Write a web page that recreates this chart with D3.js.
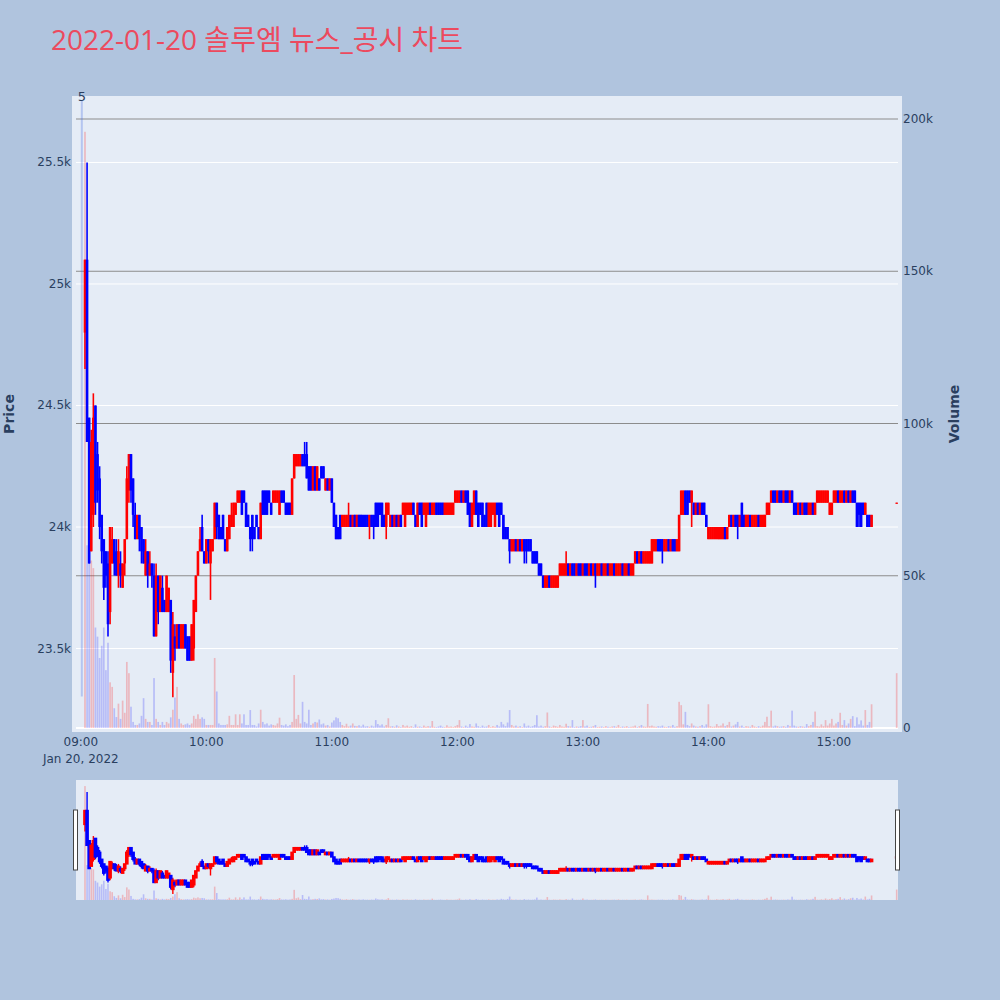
<!DOCTYPE html>
<html><head><meta charset="utf-8">
<script src="https://cdn.jsdelivr.net/npm/d3@7"></script>
<style>
body{margin:0;background:#B0C4DE;}
svg{display:block;}
text{font-family:"DejaVu Sans","Noto Sans CJK KR",sans-serif;}
text.title{font-family:"Open Sans","Noto Sans CJK KR",sans-serif;}
</style></head>
<body><svg id="c" width="1000" height="1000"></svg>
<script>
// ---------------- DATA ----------------
const chartTitle = "2022-01-20 솔루엠 뉴스_공시 차트";
const tradeDate = "2022-01-20";
const firstBarTime = "09:02";          // 1-minute bars from here, consecutive
const auctionTime = "15:30";           // closing auction bar
const auctionOpen = 24100, auctionHigh = 24100, auctionLow = 24100, auctionClose = 24100, auctionVolume = 18000;
const newsTimes = ["09:00"];
const newsLabels = ["5"];
const hourTicks = ["09:00","10:00","11:00","12:00","13:00","14:00","15:00"];
const priceTicks = [23500, 24000, 24500, 25000, 25500];
const priceTickLabels = ["23.5k","24k","24.5k","25k","25.5k"];
const volumeTicks = [0, 50000, 100000, 150000, 200000];
const volumeTickLabels = ["0","50k","100k","150k","200k"];

const openP = [
24800,25100,24450,23900,24050,24500,24300,24200,24050,23950,
23900,23850,23650,23850,23950,23900,23800,23850,23750,23850,
23950,24150,24300,24200,24050,23950,24050,24000,23950,23800,
23900,23800,23850,23800,23550,23800,23650,23750,23700,23650,
23650,23700,23400,23550,23500,23600,23500,23500,23600,23550,
23550,23450,23500,23650,23800,23900,24000,23900,23850,23950,
23850,23900,23950,24100,24050,24000,24050,23950,23900,23950,
24000,24000,24050,24100,24100,24150,24150,24100,24050,24000,
24050,24000,24050,24000,23950,24150,24150,24150,24150,24100,
24100,24100,24100,24050,24150,24150,24100,24100,24100,24050,
24200,24250,24250,24250,24300,24300,24300,24250,24250,24150,
24250,24150,24200,24250,24250,24150,24200,24150,24200,24100,
24050,24000,24050,24000,24000,24000,24000,24050,24000,24050,
24000,24050,24050,24050,24050,24050,24000,24050,24050,24100,
24100,24100,24100,24050,24000,24050,24000,24050,24000,24050,
24000,24050,24050,24000,24050,24050,24050,24100,24050,24000,
24100,24100,24050,24000,24050,24100,24050,24050,24100,24100,
24100,24100,24050,24050,24050,24050,24050,24100,24100,24100,
24150,24100,24150,24150,24100,24000,24050,24150,24100,24100,
24100,24050,24100,24000,24000,24050,24000,24100,24100,24100,
24050,24000,24000,23950,23900,23900,23950,23900,23950,23900,
23950,23950,23950,23950,23900,23900,23900,23850,23850,23800,
23750,23750,23800,23750,23750,23750,23750,23800,23800,23800,
23800,23850,23800,23850,23850,23800,23850,23850,23800,23850,
23850,23800,23850,23800,23850,23800,23800,23850,23800,23800,
23850,23800,23800,23850,23800,23800,23800,23850,23800,23800,
23850,23800,23800,23850,23900,23850,23900,23850,23850,23850,
23850,23850,23900,23900,23950,23950,23950,23900,23900,23950,
23900,23950,23950,23900,23900,24050,24050,24150,24150,24150,
24100,24100,24050,24100,24050,24100,24100,24050,23950,23950,
23950,23950,23950,23950,23950,23950,24000,23950,24000,24050,
24000,24050,24050,24000,24100,24050,24000,24000,24050,24000,
24000,24000,24050,24000,24000,24000,24050,24050,24100,24150,
24150,24100,24150,24150,24100,24150,24150,24100,24150,24100,
24100,24050,24100,24050,24100,24100,24050,24050,24100,24050,
24100,24100,24100,24100,24100,24100,24050,24050,24100,24100,
24150,24100,24100,24150,24100,24150,24100,24150,24150,24100,
24100,24100,24100,24050,24050,24050,24000];

const highP = [
25100,25500,24450,24400,24550,24500,24350,24250,24050,23950,
23900,23900,24000,24000,23950,23950,23950,23900,23850,23950,
24250,24300,24300,24200,24100,24050,24050,24000,23950,23950,
23900,23900,23850,23850,23850,23800,23800,23800,23700,23800,
23750,23700,23650,23600,23600,23600,23600,23600,23600,23550,
23550,23600,23700,23800,23900,24000,24050,23900,23950,23950,
23950,23950,24100,24100,24050,24000,24050,23950,24000,24050,
24100,24100,24100,24150,24150,24150,24150,24100,24050,24000,
24050,24000,24050,24000,24100,24150,24150,24150,24150,24100,
24150,24150,24150,24150,24150,24150,24100,24100,24100,24200,
24300,24300,24300,24300,24300,24350,24350,24250,24250,24250,
24250,24250,24200,24250,24250,24200,24200,24200,24200,24100,
24050,24000,24050,24050,24050,24050,24100,24050,24050,24050,
24050,24050,24050,24050,24050,24050,24050,24050,24050,24100,
24100,24100,24100,24050,24100,24100,24050,24050,24050,24050,
24050,24050,24100,24100,24100,24100,24100,24100,24050,24100,
24100,24100,24100,24100,24100,24100,24100,24100,24100,24100,
24100,24100,24100,24100,24100,24100,24100,24150,24150,24150,
24150,24150,24150,24150,24100,24100,24150,24150,24100,24100,
24100,24050,24100,24100,24100,24100,24100,24100,24100,24100,
24050,24000,24000,23950,23950,23950,23950,23950,23950,23950,
23950,23950,23950,23950,23900,23900,23900,23850,23850,23800,
23800,23800,23800,23800,23800,23800,23800,23850,23850,23850,
23900,23850,23850,23850,23850,23850,23850,23850,23850,23850,
23850,23850,23850,23850,23850,23850,23850,23850,23850,23850,
23850,23850,23850,23850,23850,23850,23850,23850,23850,23850,
23850,23850,23850,23900,23900,23900,23900,23900,23900,23900,
23900,23950,23950,23950,23950,23950,23950,23950,23950,23950,
23950,23950,23950,23950,24050,24150,24150,24150,24150,24150,
24150,24100,24100,24100,24100,24100,24100,24050,24000,24000,
24000,24000,24000,24000,24000,24000,24000,24000,24050,24050,
24050,24050,24050,24050,24100,24050,24050,24050,24050,24050,
24050,24050,24050,24050,24050,24050,24100,24100,24150,24150,
24150,24150,24150,24150,24150,24150,24150,24150,24150,24100,
24100,24100,24100,24100,24100,24100,24100,24100,24100,24100,
24150,24150,24150,24150,24150,24150,24100,24100,24150,24150,
24150,24150,24150,24150,24150,24150,24150,24150,24150,24100,
24100,24100,24100,24100,24050,24050,24050];

const lowP = [
24650,24350,23850,23900,24000,24050,24100,23950,23850,23700,
23750,23550,23600,23850,23800,23800,23750,23750,23750,23800,
23950,24100,24100,24000,23950,23950,23900,23850,23850,23800,
23750,23800,23750,23550,23550,23600,23650,23650,23650,23650,
23650,23400,23300,23450,23500,23500,23500,23500,23500,23450,
23450,23450,23450,23650,23800,23900,23900,23850,23850,23850,
23700,23900,23950,23950,23950,23950,23950,23900,23900,23950,
24000,24000,24050,24100,24100,24050,24100,24000,24000,23900,
23900,23950,24000,23950,23950,24050,24050,24050,24100,24050,
24100,24100,24100,24050,24100,24100,24050,24050,24050,24050,
24200,24250,24250,24250,24250,24250,24200,24150,24150,24150,
24150,24150,24150,24200,24200,24150,24150,24150,24100,24000,
23950,23950,23950,24000,24000,24000,24000,24000,24000,24000,
24000,24000,24000,24000,24000,24000,23950,24000,23950,24000,
24000,24050,24000,24000,23950,24050,24000,24000,24000,24000,
24000,24000,24050,24000,24050,24050,24050,24050,24000,24000,
24050,24000,24050,24000,24050,24050,24050,24050,24050,24050,
24050,24050,24050,24050,24050,24050,24050,24100,24100,24100,
24100,24100,24100,24050,24000,24000,24050,24050,24000,24050,
24000,24000,24000,24000,24000,24050,24000,24050,24000,24050,
23950,23950,23950,23850,23900,23900,23900,23900,23900,23900,
23850,23850,23900,23900,23850,23850,23850,23800,23800,23750,
23750,23750,23750,23750,23750,23750,23750,23800,23800,23800,
23800,23800,23800,23800,23800,23800,23800,23800,23800,23800,
23800,23800,23800,23800,23750,23800,23800,23800,23800,23800,
23800,23800,23800,23800,23800,23800,23800,23800,23800,23800,
23800,23800,23800,23850,23850,23850,23850,23850,23850,23850,
23850,23850,23900,23900,23900,23900,23850,23900,23900,23900,
23900,23900,23900,23900,23900,24050,24050,24050,24050,24100,
24000,24050,24050,24050,24050,24050,24050,24000,23950,23950,
23950,23950,23950,23950,23950,23950,23950,23950,24000,24000,
24000,24000,23950,24000,24000,24000,24000,24000,24000,24000,
24000,24000,24000,24000,24000,24000,24050,24050,24100,24100,
24100,24100,24100,24100,24100,24100,24100,24100,24100,24050,
24050,24050,24050,24050,24050,24050,24050,24050,24050,24050,
24100,24100,24100,24100,24100,24100,24050,24050,24100,24100,
24100,24100,24100,24100,24100,24100,24100,24100,24100,24000,
24000,24000,24050,24050,24000,24000,24000];

const closeP = [
25100,24350,23850,24350,24450,24100,24150,24000,23900,23750,
23800,23600,24000,23950,23850,23800,23900,23800,23850,23950,
24200,24300,24150,24050,23950,24050,23950,23900,23850,23900,
23800,23850,23800,23550,23800,23650,23800,23650,23650,23800,
23750,23450,23600,23500,23600,23500,23600,23600,23500,23450,
23450,23600,23700,23800,23900,23950,23900,23850,23950,23900,
23950,23950,24100,24000,23950,23950,23950,23900,24000,24050,
24050,24100,24100,24150,24150,24050,24100,24000,24000,23950,
23950,23950,24000,23950,24100,24050,24050,24050,24100,24050,
24150,24150,24150,24150,24100,24100,24050,24050,24050,24200,
24300,24300,24300,24300,24250,24250,24200,24150,24150,24250,
24150,24250,24150,24200,24200,24200,24150,24200,24100,24000,
23950,23950,23950,24050,24050,24050,24050,24000,24050,24000,
24050,24000,24000,24000,24000,24000,24050,24000,24000,24000,
24000,24050,24000,24000,24100,24100,24050,24000,24050,24000,
24050,24000,24100,24100,24100,24100,24100,24050,24000,24100,
24050,24000,24100,24100,24100,24050,24100,24100,24050,24050,
24050,24050,24100,24100,24100,24100,24100,24150,24150,24150,
24100,24150,24100,24050,24000,24100,24150,24050,24000,24050,
24000,24000,24000,24100,24100,24100,24100,24050,24000,24050,
23950,23950,23950,23900,23950,23950,23900,23950,23900,23950,
23900,23900,23900,23900,23850,23850,23850,23800,23800,23750,
23800,23800,23750,23800,23800,23800,23800,23850,23850,23850,
23850,23800,23850,23800,23800,23850,23800,23800,23850,23800,
23800,23850,23800,23850,23800,23850,23850,23800,23850,23850,
23800,23850,23850,23800,23850,23850,23850,23800,23850,23850,
23800,23850,23850,23900,23850,23900,23850,23900,23900,23900,
23900,23950,23950,23950,23900,23900,23900,23950,23950,23900,
23950,23900,23900,23950,24050,24150,24150,24050,24050,24100,
24150,24050,24100,24050,24100,24050,24050,24000,24000,24000,
24000,24000,24000,24000,24000,24000,23950,24000,24050,24000,
24050,24000,24000,24050,24000,24000,24050,24050,24000,24050,
24050,24050,24000,24050,24050,24050,24100,24100,24150,24100,
24100,24150,24100,24100,24150,24100,24100,24150,24100,24050,
24050,24100,24050,24100,24050,24050,24100,24100,24050,24100,
24150,24150,24150,24150,24150,24150,24100,24100,24150,24150,
24100,24150,24150,24100,24150,24100,24150,24100,24100,24000,
24050,24000,24050,24100,24000,24000,24050];

const volume = [
195800,60000,70000,55000,52500,33000,30000,23000,27000,33000,
19000,28000,15000,13500,6500,3600,8000,3000,9000,5000,
21700,18000,7000,2000,1000,1000,1500,4000,9800,3000,
2000,2000,1000,16400,3000,2000,1000,2000,1000,2000,
1500,3500,6000,10000,13500,3000,1500,1000,1200,1500,
1000,1500,4000,3000,4500,3000,3500,3000,1000,1000,
1000,1000,23000,12000,1500,1000,1000,1000,1200,4000,
1000,1000,4500,1000,4500,1500,4500,1000,1000,5900,
1000,1000,500,1500,6000,2000,1200,1500,800,1200,
1000,800,1500,3400,1000,800,1200,600,1000,2000,
17400,3000,4300,1500,8600,2000,1500,6000,1000,1500,
2000,1800,2800,1200,1500,800,1000,500,1800,2500,
3500,3200,2000,1000,600,1400,500,800,1500,700,
600,900,500,1100,500,600,400,800,500,2600,
1300,800,1200,500,1000,3200,500,600,400,900,
500,300,1000,500,800,400,600,300,1200,400,
500,300,800,400,600,500,2300,400,300,500,
800,400,300,900,400,500,300,600,1000,2600,
500,300,800,400,1300,500,400,1500,600,300,
800,400,500,1000,300,600,400,1000,500,2000,
1200,600,1800,5900,1000,500,800,400,600,300,
1500,500,800,400,600,1000,4200,500,800,400,
600,5100,500,300,800,600,400,1000,500,400,
1400,600,500,2600,300,500,400,600,2600,500,
800,300,400,600,1000,300,400,500,300,600,
400,300,500,600,400,1000,300,500,400,600,
300,400,500,800,300,600,1000,500,400,7900,
600,800,500,400,600,500,800,400,300,600,
500,1000,400,600,8600,7500,1200,5300,1000,600,
1500,800,500,400,600,1000,500,1200,7800,600,
400,500,1300,600,800,1500,600,1000,2000,500,
800,1200,2000,500,800,300,600,500,400,1000,
500,300,600,400,800,2000,3700,600,5700,500,
800,600,400,500,600,400,1000,600,5700,800,
500,400,600,500,400,1300,600,1000,2000,5400,
600,500,1200,600,2600,800,1500,3000,800,1500,
2000,5000,1000,2600,800,1500,3000,3900,600,3500,
1200,2500,800,5900,1000,2000,7800];

// ---------------- BUILD ROWS ----------------
const parseT = d3.timeParse("%Y-%m-%d %H:%M");
const t0 = parseT(tradeDate + " " + firstBarTime);
const rows = openP.map((o, i) => ({
  t: new Date(+t0 + i * 60000), o, h: highP[i], l: lowP[i], c: closeP[i], v: volume[i]
}));
rows.push({t: parseT(tradeDate + " " + auctionTime), o: auctionOpen, h: auctionHigh, l: auctionLow, c: auctionClose, v: auctionVolume});

// ---------------- LAYOUT ----------------
const svg = d3.select("#c");
const W = 1000, H = 1000;
const P = {l: 76, r: 898, t: 100, b: 728};      // main plotting area
const S = {l: 76, r: 898, t: 780, b: 900};      // range slider area
const INC = "#FF0000", DEC = "#0000FF";
const INC_V = "rgba(255,0,0,0.22)", DEC_V = "rgba(0,0,255,0.2)";
const TXT = "#2a3f5f";

svg.append("rect").attr("width", W).attr("height", H).attr("fill", "#B0C4DE");

const t900 = parseT(tradeDate + " 09:00");
const xDom = [new Date(+t900 - 2.294 * 60000), new Date(+t900 + 390.63 * 60000)];
const x = d3.scaleTime().domain(xDom).range([P.l, P.r]);
const yP = d3.scaleLinear().domain([23173, 25757]).range([P.b, P.t]);
const yV = d3.scaleLinear().domain([0, 206240]).range([P.b, P.t]);
const xs = d3.scaleTime().domain(xDom).range([S.l, S.r]);
const ySP = d3.scaleLinear().domain([23173, 25757]).range([S.b, S.t]);
const ySV = d3.scaleLinear().domain([0, 206240]).range([S.b, S.t]);

// plot background (with 4px pad as in reference)
svg.append("rect").attr("x", P.l - 4).attr("y", P.t - 4)
  .attr("width", P.r - P.l + 8).attr("height", P.b - P.t + 8).attr("fill", "#E5ECF6");

// gridlines
const grid = svg.append("g");
grid.selectAll(".pg").data(priceTicks).join("line")
  .attr("x1", P.l).attr("x2", P.r).attr("y1", d => yP(d)).attr("y2", d => yP(d))
  .attr("stroke", "#ffffff").attr("stroke-width", 1);
grid.selectAll(".vg").data(volumeTicks.filter(d => d > 0)).join("line")
  .attr("x1", P.l).attr("x2", P.r).attr("y1", d => yV(d)).attr("y2", d => yV(d))
  .attr("stroke", "#8c8c8c").attr("stroke-width", 1);
grid.append("line").attr("x1", P.l).attr("x2", P.r).attr("y1", yV(0)).attr("y2", yV(0))
  .attr("stroke", "#ffffff").attr("stroke-width", 2);

// clip
const defs = svg.append("defs");
defs.append("clipPath").attr("id", "clipMain").append("rect")
  .attr("x", P.l - 4).attr("y", P.t - 4).attr("width", P.r - P.l + 8).attr("height", P.b - P.t + 8);
defs.append("clipPath").attr("id", "clipSl").append("rect")
  .attr("x", S.l).attr("y", S.t).attr("width", S.r - S.l).attr("height", S.b - S.t);

const dirUp = d => d.c >= d.o;

function drawSeries(g, X, YP, YV, bodyW, wickW, barW, bodyStroke) {
  g.selectAll(".vol").data(rows).join("rect")
    .attr("x", d => X(d.t) - barW / 2).attr("width", barW)
    .attr("y", d => YV(d.v)).attr("height", d => YV(0) - YV(d.v))
    .attr("fill", d => dirUp(d) ? INC_V : DEC_V);
  g.selectAll(".wick").data(rows).join("line")
    .attr("x1", d => X(d.t)).attr("x2", d => X(d.t))
    .attr("y1", d => YP(d.h)).attr("y2", d => YP(d.l) + (d.h === d.l ? 1 : 0))
    .attr("stroke", d => dirUp(d) ? INC : DEC).attr("stroke-width", wickW);
  g.selectAll(".body").data(rows).join("rect")
    .attr("x", d => X(d.t) - bodyW / 2).attr("width", bodyW)
    .attr("y", d => YP(Math.max(d.o, d.c)))
    .attr("height", d => Math.max(1, YP(Math.min(d.o, d.c)) - YP(Math.max(d.o, d.c))))
    .attr("fill", d => dirUp(d) ? INC : DEC)
    .attr("stroke", d => bodyStroke ? (dirUp(d) ? INC : DEC) : "none")
    .attr("stroke-width", bodyStroke);
}

const gMain = svg.append("g").attr("clip-path", "url(#clipMain)");
drawSeries(gMain, x, yP, yV, 2.6, 1.6, 1.7, 0);

// news marker
const gNews = svg.append("g");
gNews.selectAll("line").data(newsTimes).join("line")
  .attr("x1", d => x(parseT(tradeDate + " " + d)) + 1).attr("x2", d => x(parseT(tradeDate + " " + d)) + 1)
  .attr("y1", P.b - 0.05 * (P.b - P.t)).attr("y2", P.t)
  .attr("stroke", "rgba(65,105,225,0.3)").attr("stroke-width", 2);
gNews.selectAll("text").data(newsTimes).join("text")
  .attr("x", d => x(parseT(tradeDate + " " + d)) + 1).attr("y", P.t + 1)
  .attr("text-anchor", "middle").attr("font-size", 13).attr("fill", TXT)
  .text((d, i) => newsLabels[i]);

// axes labels
const ax = svg.append("g").attr("fill", TXT).attr("font-size", 12);
ax.selectAll(".pt").data(priceTicks).join("text")
  .attr("x", P.l - 5).attr("y", d => yP(d) + 4).attr("text-anchor", "end")
  .text((d, i) => priceTickLabels[i]);
ax.selectAll(".vt").data(volumeTicks).join("text")
  .attr("x", P.r + 5).attr("y", d => yV(d) + 4).attr("text-anchor", "start")
  .text((d, i) => volumeTickLabels[i]);
ax.selectAll(".xt").data(hourTicks).join("text")
  .attr("x", d => x(parseT(tradeDate + " " + d))).attr("y", P.b + 18)
  .attr("text-anchor", "middle").text(d => d);
ax.append("text").attr("x", x(t900)).attr("y", P.b + 35).attr("text-anchor", "middle")
  .text(d3.timeFormat("%b %-d, %Y")(t900));

svg.append("text").attr("transform", `translate(14,${(P.t + P.b) / 2}) rotate(-90)`)
  .attr("text-anchor", "middle").attr("font-size", 14).attr("font-weight", "bold").attr("fill", TXT).text("Price");
svg.append("text").attr("transform", `translate(959,${(P.t + P.b) / 2}) rotate(-90)`)
  .attr("text-anchor", "middle").attr("font-size", 14).attr("font-weight", "bold").attr("fill", TXT).text("Volume");

// title
svg.append("text").attr("class", "title").attr("x", 51).attr("y", 50).attr("font-size", 28)
  .attr("fill", "rgb(236,74,94)").text(chartTitle);

// range slider
svg.append("rect").attr("x", S.l).attr("y", S.t).attr("width", S.r - S.l).attr("height", S.b - S.t)
  .attr("fill", "#E5ECF6");
const gSl = svg.append("g").attr("clip-path", "url(#clipSl)");
drawSeries(gSl, xs, ySP, ySV, 2.2, 1.4, 1.6, 1.4);
[S.l, S.r].forEach(px => {
  svg.append("rect").attr("x", px - 2.5).attr("y", S.t + 30).attr("width", 4).attr("height", 60)
    .attr("fill", "#ffffff").attr("stroke", "#444").attr("stroke-width", 1);
});
</script>
</body></html>
